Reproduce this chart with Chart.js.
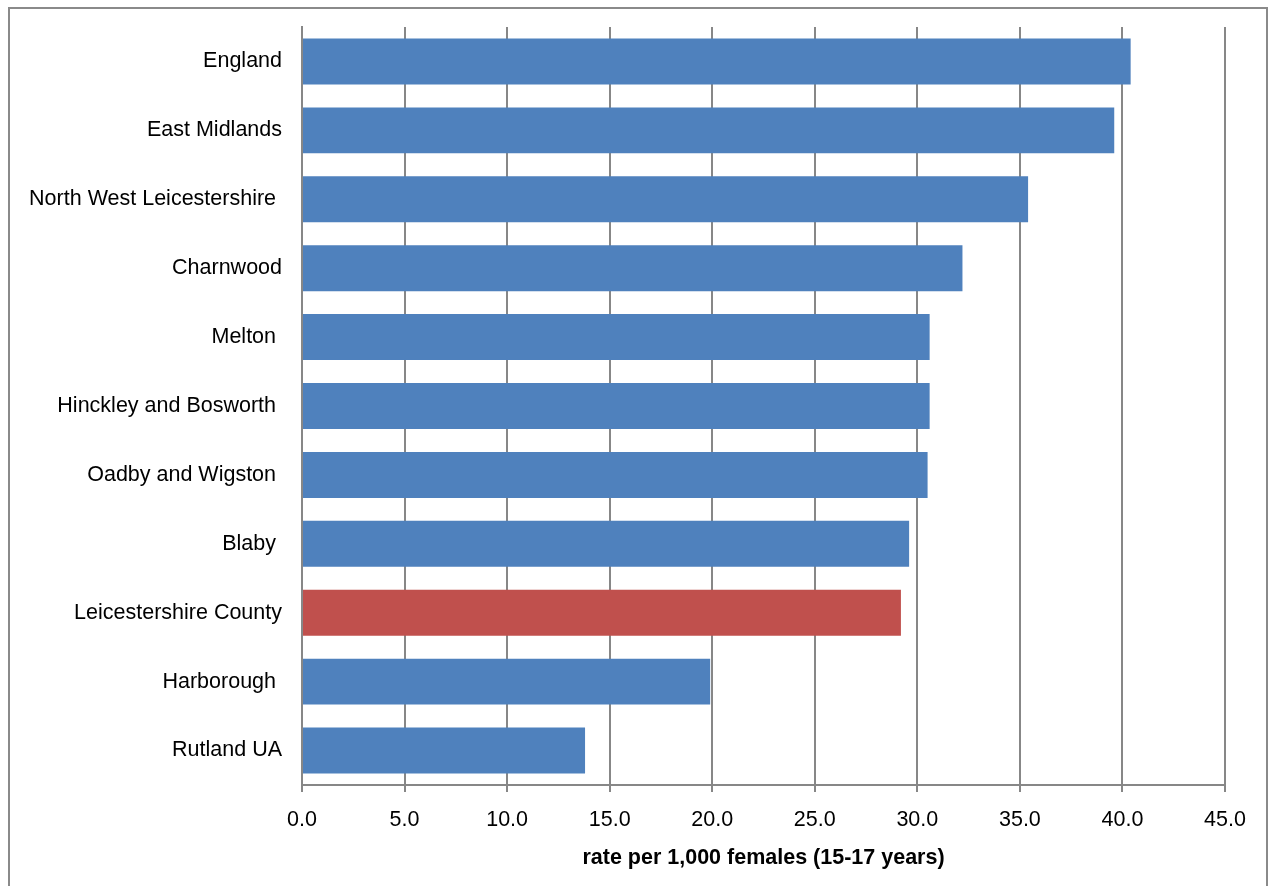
<!DOCTYPE html>
<html>
<head>
<meta charset="utf-8">
<script src="https://cdn.jsdelivr.net/npm/chart.js@4/dist/chart.umd.min.js"></script>
<style>
  html, body { margin: 0; padding: 0; background: #ffffff; }
  #wrap { width: 1274px; height: 886px; position: relative; }
</style>
</head>
<body>
<div id="wrap"><canvas id="chart" width="1274" height="886"></canvas></div>
<script>
// Areas, listed top to bottom
const areas = [
  'England',
  'East Midlands',
  'North West Leicestershire ',
  'Charnwood',
  'Melton ',
  'Hinckley and Bosworth ',
  'Oadby and Wigston ',
  'Blaby ',
  'Leicestershire County',
  'Harborough ',
  'Rutland UA'
];
// Rate per 1,000 females aged 15-17
const rates = [40.4, 39.6, 35.4, 32.2, 30.6, 30.6, 30.5, 29.6, 29.2, 19.9, 13.8];
// The county total is highlighted
const highlightArea = 'Leicestershire County';
const axisTicks = [0, 5, 10, 15, 20, 25, 30, 35, 40, 45];

const BLUE = '#4F81BD';
const RED = '#C0504D';
const GRID = '#878787';
const FONT = '"Liberation Sans", Arial, sans-serif';

const barColors = areas.map(a => a.trim() === highlightArea ? RED : BLUE);

// White page with the grey frame around the chart
const framePlugin = {
  id: 'frame',
  beforeDraw(chart) {
    const ctx = chart.ctx;
    ctx.save();
    ctx.fillStyle = '#ffffff';
    ctx.fillRect(0, 0, chart.width, chart.height);
    ctx.strokeStyle = '#8a8a8a';
    ctx.lineWidth = 2;
    ctx.strokeRect(9, 8, 1258, 900);
    ctx.restore();
  }
};

new Chart(document.getElementById('chart'), {
  type: 'bar',
  data: {
    labels: areas,
    datasets: [{
      data: rates,
      backgroundColor: barColors,
      borderWidth: 0,
      categoryPercentage: 1,
      barPercentage: 0.667
    }]
  },
  options: {
    indexAxis: 'y',
    responsive: false,
    animation: false,
    layout: { padding: { top: 27, right: 49, bottom: 0, left: 0 } },
    plugins: {
      legend: { display: false },
      tooltip: { enabled: false }
    },
    scales: {
      x: {
        min: 0,
        max: 45,
        afterBuildTicks(scale) {
          scale.ticks = axisTicks.map(v => ({ value: v }));
        },
        afterFit(scale) { scale.height = 101; },
        grid: {
          color: GRID,
          lineWidth: 2,
          drawOnChartArea: true,
          drawTicks: true,
          tickLength: 7,
          tickColor: GRID
        },
        border: { display: true, color: GRID, width: 2 },
        ticks: {
          color: '#000000',
          font: { family: FONT, size: 21.5 },
          padding: 15,
          maxRotation: 0,
          callback: v => Number(v).toFixed(1)
        },
        title: {
          display: true,
          text: 'rate per 1,000 females (15-17 years)',
          color: '#000000',
          font: { family: FONT, size: 21.5, weight: 'bold' },
          padding: { top: 0, bottom: 15 }
        }
      },
      y: {
        afterFit(scale) {
          scale.width = 302;
          scale.paddingTop = 0;
          scale.paddingBottom = 0;
        },
        grid: { display: false, drawTicks: false },
        border: { display: true, color: GRID, width: 2 },
        ticks: {
          color: '#000000',
          font: { family: FONT, size: 21.5 },
          padding: 20
        }
      }
    }
  },
  plugins: [framePlugin]
});
</script>
</body>
</html>
